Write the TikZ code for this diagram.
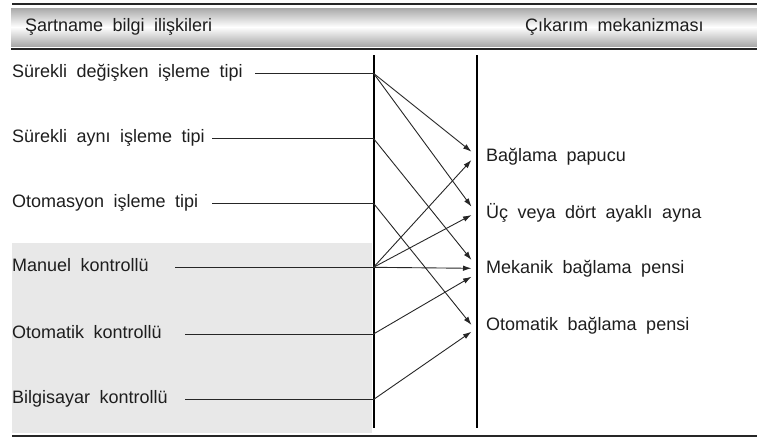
\documentclass[tikz,border=0pt]{standalone}
\usepackage{fontspec}
\setmainfont{Liberation Sans}
\usetikzlibrary{arrows.meta}
\definecolor{ink}{HTML}{1E1E1E}
\definecolor{wire}{HTML}{262626}
\definecolor{pane}{HTML}{E8E8E8}
\definecolor{band}{HTML}{A9A9A9}
\newcommand\lblfont{\fontsize{18}{21}\selectfont\setlength{\spaceskip}{9.5pt}}

\begin{document}
\begin{tikzpicture}[x=1pt,y=-1pt,
  txt/.style={inner sep=0pt, anchor=base west, text=ink, font=\lblfont},
  lead/.style={line width=0.9pt, draw=wire},
  link/.style={line width=0.9pt, draw=wire, -{Latex[length=8.5pt,width=5.5pt]}},
  bar/.style={line width=2pt, draw=black},
  rule/.style={line width=2pt, draw=black!85}]

\useasboundingbox (0,0) rectangle (757,440);

% header band
\shade[top color=band, bottom color=band, middle color=white] (11,8) rectangle (757,46);
\draw[line width=1.8pt, black!85] (12,4) -- (757,4);
\draw[rule] (11,49) -- (757,49);
\draw[rule] (12,436) -- (757,436);

% shaded area behind the control group
\fill[pane] (12,243) rectangle (372,433);

\node[txt] (h1) at (25,31) {Şartname bilgi ilişkileri};
\node[txt] (h2) at (525,31) {Çıkarım mekanizması};

% the two vertical bars
\coordinate (bar1top) at (373.5,55);
\coordinate (bar1bot) at (373.5,428);
\coordinate (bar2top) at (477,55);
\coordinate (bar2bot) at (477,428);
\draw[bar] (bar1top) -- (bar1bot);
\draw[bar] (bar2top) -- (bar2bot);

% left-hand labels
\node[txt] (l1) at (12,77) {Sürekli değişken işleme tipi};
\node[txt] (l2) at (12,142) {Sürekli aynı işleme tipi};
\node[txt] (l3) at (12,207) {Otomasyon işleme tipi};
\node[txt] (l4) at (12,271) {Manuel kontrollü};
\node[txt] (l5) at (12,338) {Otomatik kontrollü};
\node[txt] (l6) at (12,403) {Bilgisayar kontrollü};

% right-hand labels
\node[txt] (r1) at (486,161) {Bağlama papucu};
\node[txt] (r2) at (486,218) {Üç veya dört ayaklı ayna};
\node[txt] (r3) at (486,273) {Mekanik bağlama pensi};
\node[txt] (r4) at (486,330) {Otomatik bağlama pensi};

% lead lines from the labels to the left bar
\coordinate (a1) at (255,73.3);  \coordinate (j1) at (373.5,73.3);
\coordinate (a2) at (212,138.5); \coordinate (j2) at (373.5,138.5);
\coordinate (a3) at (212,203.3); \coordinate (j3) at (373.5,203.3);
\coordinate (a4) at (175,267.3); \coordinate (j4) at (373.5,267.3);
\coordinate (a5) at (185,334);   \coordinate (j5) at (373.5,334);
\coordinate (a6) at (185,399.5); \coordinate (j6) at (373.5,399.5);
\foreach \k in {1,...,6} \draw[lead] (a\k) -- (j\k);

% arrow targets beside the right bar
\coordinate (p1a) at (471.5,151.7); \coordinate (p1b) at (471.5,160);
\coordinate (p2a) at (471.5,206.7); \coordinate (p2b) at (471.5,215);
\coordinate (p3a) at (471.5,260);   \coordinate (p3b) at (471.5,268.3);
\coordinate (p3c) at (471.5,276.7);
\coordinate (p4a) at (471.5,325);   \coordinate (p4b) at (471.5,331.7);

\draw[link] (j1) -- (p1a);
\draw[link] (j1) -- (p2a);
\draw[link] (j2) -- (p3a);
\draw[link] (j3) -- (p4a);
\draw[link] (j4) -- (p1b);
\draw[link] (j4) -- (p2b);
\draw[link] (j4) -- (p3b);
\draw[link] (j5) -- (p3c);
\draw[link] (j6) -- (p4b);
\end{tikzpicture}
\end{document}
